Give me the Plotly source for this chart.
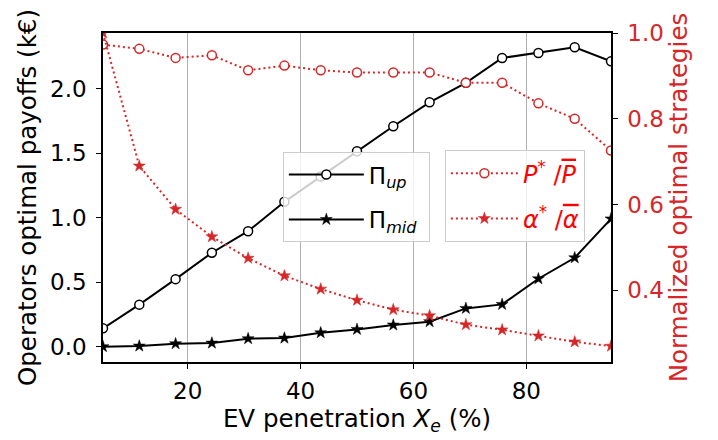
import plotly.graph_objects as go

# EV penetration (%)
x_pen = [5, 11.43, 17.86, 24.29, 30.71, 37.14, 43.57, 50, 56.43, 62.86, 69.29, 75.71, 82.14, 88.57, 95]
# Operators optimal payoffs (k€)
pi_up = [0.142, 0.326, 0.524, 0.729, 0.896, 1.124, 1.32, 1.516, 1.710, 1.896, 2.047, 2.240, 2.279, 2.323, 2.214]
pi_mid = [0.0, 0.005, 0.023, 0.028, 0.062, 0.067, 0.108, 0.134, 0.168, 0.194, 0.297, 0.328, 0.527, 0.690, 0.992]
# Normalized optimal strategies
p_norm = [0.973, 0.963, 0.942, 0.948, 0.913, 0.924, 0.913, 0.908, 0.908, 0.908, 0.884, 0.884, 0.836, 0.800, 0.726]
alpha_norm = [1.0, 0.690, 0.589, 0.525, 0.475, 0.434, 0.403, 0.377, 0.355, 0.341, 0.320, 0.308, 0.294, 0.280, 0.270]

x_ticks = [20, 40, 60, 80]
left_ticks = [0.0, 0.5, 1.0, 1.5, 2.0]
right_ticks = [0.4, 0.6, 0.8, 1.0]

RED = "#d62728"
FONT = "DejaVu Sans"
DOT = "2px,3px"
PAD = "\u00a0"

fig = go.Figure()
fig.add_trace(go.Scatter(
    x=x_pen, y=pi_up, mode="lines+markers", name="Π<sub><i>up</i></sub>" + PAD,
    line=dict(color="black", width=2),
    marker=dict(symbol="circle", size=9, color="white", line=dict(color="black", width=1.5)),
    legend="legend", legendgroup="a", yaxis="y"))
fig.add_trace(go.Scatter(
    x=x_pen, y=pi_mid, mode="lines+markers", name="Π<sub><i>mid</i></sub>" + PAD,
    line=dict(color="black", width=2),
    marker=dict(symbol="star", size=9, color="black", line=dict(color="black", width=0.5)),
    legend="legend", legendgroup="b", yaxis="y"))
fig.add_trace(go.Scatter(
    x=x_pen, y=p_norm, mode="lines+markers",
    name="<i>P</i><sup>*</sup> /<span style=\"text-decoration:overline\"><i>P</i></span>",
    line=dict(color=RED, width=2, dash=DOT),
    marker=dict(symbol="circle", size=9, color="white", line=dict(color=RED, width=1.5)),
    legend="legend2", legendgroup="c", yaxis="y2"))
fig.add_trace(go.Scatter(
    x=x_pen, y=alpha_norm, mode="lines+markers",
    name="<i>α</i><sup>*</sup> /<span style=\"text-decoration:overline\"><i>α</i></span>",
    line=dict(color=RED, width=2, dash=DOT),
    marker=dict(symbol="star", size=9, color=RED, line=dict(color=RED, width=0.5)),
    legend="legend2", legendgroup="d", yaxis="y2"))

fig.update_layout(
    width=710, height=432,
    margin=dict(l=95, r=107, t=25, b=78),
    paper_bgcolor="white", plot_bgcolor="white",
    font=dict(family=FONT, size=23, color="black"),
    xaxis=dict(
        range=[5, 95], tickvals=x_ticks, ticks="outside", ticklen=5, tickcolor="black",
        showgrid=True, gridcolor="#b0b0b0", gridwidth=1, zeroline=False,
        showline=True, linecolor="black", linewidth=1.5, mirror=True, automargin=False,
        ticklabelstandoff=3,
        title=dict(text="EV penetration <i>X</i><sub><i>e</i></sub> (%)", standoff=4,
                   font=dict(size=24.5)),
        tickfont=dict(size=23)),
    yaxis=dict(
        range=[-0.119, 2.434], tickvals=left_ticks, tickformat=".1f", ticks="outside",
        ticklen=5, tickcolor="black", showgrid=False, zeroline=False,
        showline=True, linecolor="black", linewidth=1.5, mirror=True, automargin=False,
        ticklabelstandoff=5,
        title=dict(text="Operators optimal payoffs (k€)", standoff=6, font=dict(size=24.5)),
        tickfont=dict(size=23)),
    yaxis2=dict(
        range=[0.233, 1.0], tickvals=right_ticks, tickformat=".1f", ticks="outside",
        ticklen=5, tickcolor="black", overlaying="y", side="right", automargin=False,
        showgrid=False, zeroline=False, showline=True, linecolor="black", linewidth=1.5,
        ticklabelstandoff=5,
        title=dict(text="Normalized optimal strategies", standoff=6, font=dict(color=RED, size=24.5)),
        tickfont=dict(size=23, color=RED)),
    legend=dict(
        x=0.354, y=0.638, xanchor="left", yanchor="top",
        bgcolor="rgba(255,255,255,0.8)", bordercolor="#cccccc", borderwidth=1,
        font=dict(size=23, color="black"), itemwidth=75, tracegroupgap=12,
        traceorder="grouped"),
    legend2=dict(
        x=0.673, y=0.644, xanchor="left", yanchor="top",
        bgcolor="rgba(255,255,255,0.8)", bordercolor="#cccccc", borderwidth=1,
        font=dict(size=24, color="red"), itemwidth=67, tracegroupgap=11,
        traceorder="grouped"),
    showlegend=True,
)

fig.write_html("out.html")
